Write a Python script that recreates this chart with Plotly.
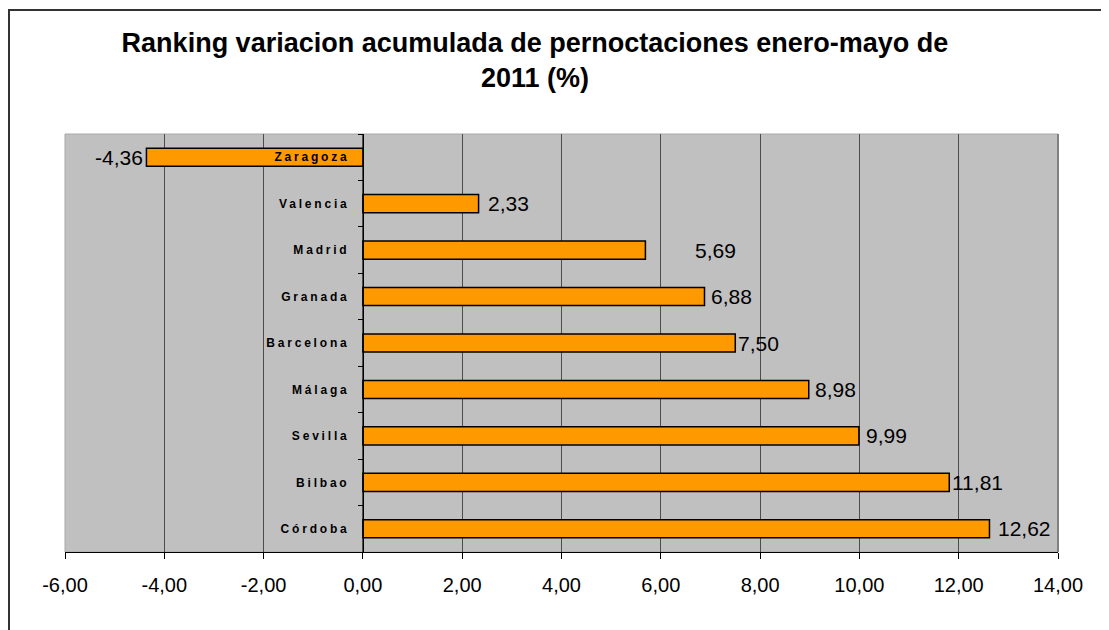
import plotly.graph_objects as go

categories = ["Zaragoza", "Valencia", "Madrid", "Granada", "Barcelona",
              "Málaga", "Sevilla", "Bilbao", "Córdoba"]
values = [-4.36, 2.33, 5.69, 6.88, 7.50, 8.98, 9.99, 11.81, 12.62]
value_labels = ["-4,36", "2,33", "5,69", "6,88", "7,50", "8,98", "9,99", "11,81", "12,62"]
x_ticks = [-6, -4, -2, 0, 2, 4, 6, 8, 10, 12, 14]
x_tick_labels = ["-6,00", "-4,00", "-2,00", "0,00", "2,00", "4,00", "6,00",
                 "8,00", "10,00", "12,00", "14,00"]
title_text = "Ranking variacion acumulada de pernoctaciones enero-mayo de<br>2011 (%)"

# label placement style (pixel nudges of the data labels, as in the original)
label_gap = {"Zaragoza": 1, "Valencia": 7, "Madrid": 48, "Granada": 5, "Barcelona": 1,
             "Málaga": 4, "Sevilla": 5, "Bilbao": 1, "Córdoba": 7}

FONT = "Liberation Sans, Arial, sans-serif"

# page has an 8px body margin; compensate so the plot lands where the reference has it
OFF = 8
W, H = 1109, 630
L, R, T, B = 65 - OFF, 51 + OFF, 134 - OFF, 78 + OFF
PW = W - L - R
PH = H - T - B

fig = go.Figure()
fig.add_trace(go.Bar(
    x=values, y=categories, orientation="h",
    marker=dict(color="#FF9900", line=dict(color="#000000", width=1.5)),
    width=0.39, hoverinfo="x+y",
))

annotations = []
for cat, v, lab in zip(categories, values, value_labels):
    g = label_gap[cat]
    annotations.append(dict(
        x=v, y=cat, xref="x", yref="y", text=lab, showarrow=False,
        xanchor="left" if v >= 0 else "right", yanchor="middle",
        xshift=g if v >= 0 else -g,
        font=dict(family=FONT, size=21, color="#000000"),
    ))

tick_text = ['<span style="letter-spacing:2.8px"><b>%s</b></span>' % c for c in categories]

fig.update_layout(
    width=W, height=H,
    margin=dict(l=L, r=R, t=T, b=B),
    paper_bgcolor="#FFFFFF",
    plot_bgcolor="#C0C0C0",
    showlegend=False,
    annotations=annotations,
    title=dict(text="<b>" + title_text + "</b>", x=(535 - OFF) / W, xanchor="center",
               y=1 - (52 - OFF) / H, yanchor="middle",
               font=dict(family=FONT, size=27, color="#000000")),
    xaxis=dict(range=[-6, 14], tickvals=x_ticks, ticktext=x_tick_labels,
               showgrid=True, gridcolor="#4d4d4d", gridwidth=1, zeroline=False,
               showline=True, linecolor="#000000", linewidth=1,
               ticks="outside", ticklen=6, tickcolor="#000000",
               ticklabelstandoff=9,
               tickfont=dict(family=FONT, size=20, color="#000000")),
    yaxis=dict(autorange="reversed", anchor="free", position=0.3,
               tickvals=categories, ticktext=tick_text,
               showgrid=False, zeroline=False,
               showline=True, linecolor="#000000", linewidth=1,
               ticks="outside", ticklen=5, tickcolor="#000000",
               tickson="boundaries", ticklabelstandoff=11,
               tickfont=dict(family=FONT, size=12, color="#000000")),
    shapes=[
        dict(type="rect", xref="paper", yref="paper", x0=0, x1=1, y0=0, y1=1,
             line=dict(color="#a8a8a8", width=1), layer="below"),
        dict(type="line", xref="paper", yref="paper", x0=1, x1=1, y0=0, y1=1,
             line=dict(color="#808080", width=2)),
        dict(type="rect", xref="paper", yref="paper",
             x0=(1 - L) / PW, x1=(W + 20 - L) / PW,
             y0=-0.4, y1=(H - B - 2) / PH,
             line=dict(color="#333333", width=2)),
    ],
)

fig.write_html("out.html")
